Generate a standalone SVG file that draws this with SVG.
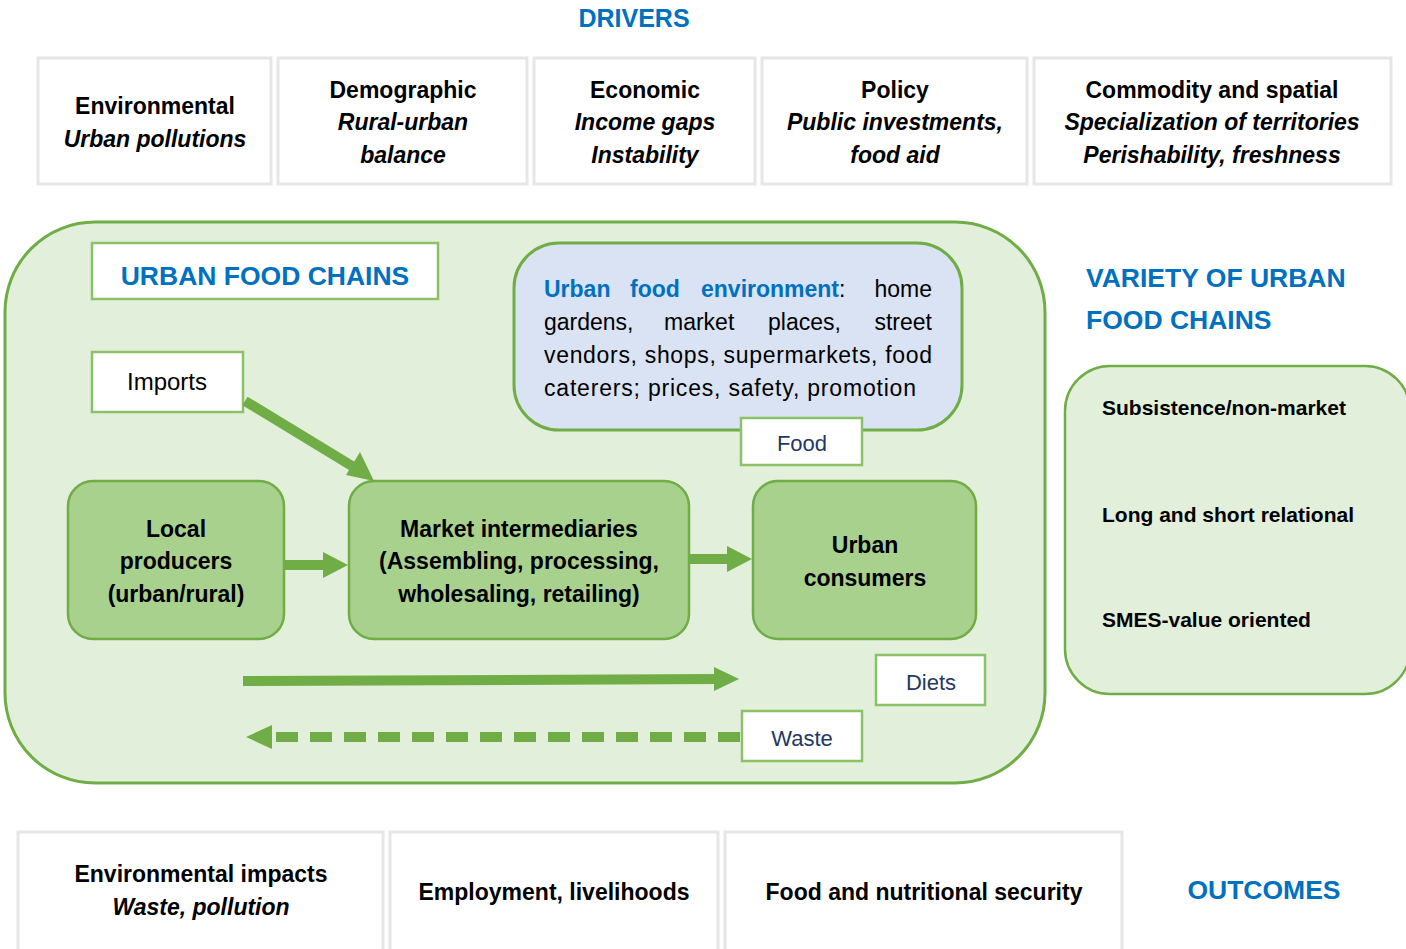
<svg xmlns="http://www.w3.org/2000/svg" width="1406" height="949" viewBox="0 0 1406 949">
<style>
text{font-family:"Liberation Sans",Arial,sans-serif;}
.blue{fill:#0070C0;font-weight:bold;}
.drv{fill:#fff;stroke:#E6E6E6;stroke-width:3;}
.b{font-weight:bold;fill:#000;font-size:23px;}
.bi{font-weight:bold;font-style:italic;fill:#000;font-size:23px;}
.lbl{fill:#fff;stroke:#8CC168;stroke-width:2.5;}
.navy{fill:#1F3864;font-size:22px;}
.node{fill:#A9D18E;stroke:#70AD47;stroke-width:2.5;}
.arr{stroke:#70AD47;stroke-width:10;fill:none;}
.head{fill:#70AD47;}
.c{text-anchor:middle;}
</style>
<rect width="1406" height="949" fill="#fff"/>
<text class="blue c" x="634" y="27" font-size="25">DRIVERS</text>

<g id="drivers">
<g id="d-env"><rect class="drv" x="38" y="58" width="233" height="126"/>
<text class="b c" x="155" y="114">Environmental</text><text class="bi c" x="155" y="147">Urban pollutions</text></g>
<g id="d-demo"><rect class="drv" x="278" y="58" width="249" height="126"/>
<text class="b c" x="403" y="98">Demographic</text><text class="bi c" x="403" y="130">Rural-urban</text><text class="bi c" x="403" y="163">balance</text></g>
<g id="d-eco"><rect class="drv" x="534" y="58" width="221" height="126"/>
<text class="b c" x="645" y="98">Economic</text><text class="bi c" x="645" y="130">Income gaps</text><text class="bi c" x="645" y="163">Instability</text></g>
<g id="d-pol"><rect class="drv" x="762" y="58" width="265" height="126"/>
<text class="b c" x="895" y="98">Policy</text><text class="bi c" x="895" y="130">Public investments,</text><text class="bi c" x="895" y="163">food aid</text></g>
<g id="d-com"><rect class="drv" x="1034" y="58" width="357" height="126"/>
<text class="b c" x="1212" y="98">Commodity and spatial</text><text class="bi c" x="1212" y="130">Specialization of territories</text><text class="bi c" x="1212" y="163">Perishability, freshness</text></g>
</g>

<g id="urban-food-chains">
<rect x="5" y="222" width="1040" height="561" rx="90" ry="90" fill="#E2EFDA" stroke="#70AD47" stroke-width="3"/>
<rect class="lbl" x="92" y="243" width="346" height="56"/>
<text class="blue c" x="265" y="285" font-size="26.5">URBAN FOOD CHAINS</text>
</g>

<g id="imports"><rect class="lbl" x="92" y="352" width="151" height="60"/>
<text class="c" x="167" y="390" font-size="24" fill="#000">Imports</text></g>

<g id="food-env">
<rect x="514" y="243" width="448" height="187" rx="45" ry="45" fill="#DAE3F3" stroke="#70AD47" stroke-width="3"/>
<g font-size="23" fill="#000">
<text x="544" y="297" class="blue">Urban</text>
<text x="630" y="297" class="blue">food</text>
<text x="701" y="297"><tspan class="blue">environment</tspan>:</text>
<text x="932" y="297" text-anchor="end">home</text>
<text x="544" y="330">gardens,</text>
<text x="664" y="330">market</text>
<text x="768" y="330">places,</text>
<text x="932" y="330" text-anchor="end">street</text>
<text x="544" y="363" textLength="388" lengthAdjust="spacing">vendors, shops, supermarkets, food</text>
<text x="544" y="396" textLength="372" lengthAdjust="spacing">caterers; prices, safety, promotion</text>
</g>
</g>

<g id="food-label"><rect class="lbl" x="741" y="418" width="121" height="47"/>
<text class="navy c" x="802" y="451">Food</text></g>

<g id="local-producers"><rect class="node" x="68" y="481" width="216" height="158" rx="25" ry="25"/>
<text class="b c" x="176" y="537">Local</text><text class="b c" x="176" y="569">producers</text><text class="b c" x="176" y="602">(urban/rural)</text></g>

<g id="market-intermediaries"><rect class="node" x="349" y="481" width="340" height="158" rx="25" ry="25"/>
<text class="b c" x="519" y="537">Market intermediaries</text><text class="b c" x="519" y="569">(Assembling, processing,</text><text class="b c" x="519" y="602">wholesaling, retailing)</text></g>

<g id="urban-consumers"><rect class="node" x="753" y="481" width="223" height="158" rx="25" ry="25"/>
<text class="b c" x="865" y="553">Urban</text><text class="b c" x="865" y="586">consumers</text></g>

<g id="diets-label"><rect class="lbl" x="876" y="655" width="109" height="50"/>
<text class="navy c" x="931" y="690">Diets</text></g>

<g id="waste-label"><rect class="lbl" x="742" y="711" width="120" height="50"/>
<text class="navy c" x="802" y="746">Waste</text></g>

<g id="connectors">
<line class="arr" x1="285" y1="565" x2="325" y2="565"/>
<polygon class="head" points="323,552 348,565 323,578"/>
<line class="arr" x1="690" y1="559" x2="730" y2="559"/>
<polygon class="head" points="727,546 752,559 727,572"/>
<line class="arr" x1="245" y1="401" x2="352" y2="466"/>
<polygon class="head" points="346,475 360,452 374,481"/>
<line class="arr" x1="243" y1="681" x2="718" y2="679"/>
<polygon class="head" points="714,667 739,679 714,691"/>
<line class="arr" x1="740" y1="737" x2="268" y2="737" stroke-dasharray="22,12"/>
<polygon class="head" points="272,725 246,737 272,749"/>
</g>

<text class="blue" x="1086" y="287" font-size="26.5">VARIETY OF URBAN</text>
<text class="blue" x="1086" y="329" font-size="26.5">FOOD CHAINS</text>

<g id="variety">
<rect x="1065" y="366" width="345" height="328" rx="45" ry="45" fill="#E2EFDA" stroke="#70AD47" stroke-width="2.5"/>
<text x="1102" y="415" font-size="21" font-weight="bold">Subsistence/non-market</text>
<text x="1102" y="522" font-size="21" font-weight="bold">Long and short relational</text>
<text x="1102" y="627" font-size="21" font-weight="bold">SMES-value oriented</text>
</g>

<g id="outcomes">
<g id="o-env"><rect class="drv" x="18" y="832" width="365" height="125"/>
<text class="b c" x="201" y="882">Environmental impacts</text><text class="bi c" x="201" y="915">Waste, pollution</text></g>
<g id="o-emp"><rect class="drv" x="390" y="832" width="328" height="125"/>
<text class="b c" x="554" y="900">Employment, livelihoods</text></g>
<g id="o-food"><rect class="drv" x="725" y="832" width="397" height="125"/>
<text class="b c" x="924" y="900">Food and nutritional security</text></g>
</g>
<text class="blue c" x="1264" y="899" font-size="26.5">OUTCOMES</text>
</svg>
